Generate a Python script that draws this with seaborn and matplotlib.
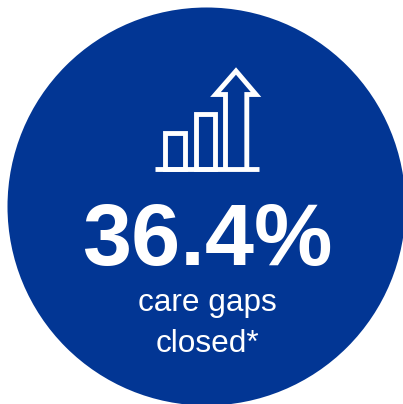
import matplotlib
matplotlib.use("Agg")
import matplotlib.pyplot as plt
import seaborn as sns
from matplotlib.patches import Circle

# Figure content
headline = "36.4%"
caption_lines = ["care gaps", "closed*"]
bar_centres = [175.0, 205.3]
bar_heights = [35.5, 54.5]
BLUE = "#023694"
WHITE = "#ffffff"
STROKE = 3.5

sns.set_theme(style="white", rc={"font.family": ["Liberation Sans", "DejaVu Sans"]})
fig = plt.figure(figsize=(4.03, 4.04), dpi=100, facecolor=WHITE)

# Canvas axes measured in pixels, origin at top left
ax = fig.add_axes([0, 0, 1, 1])
ax.set_xlim(0, 403)
ax.set_ylim(404, 0)
ax.axis("off")
ax.add_patch(Circle((206.5, 206.5), 199, facecolor=BLUE, edgecolor="none", clip_on=True))

# Icon axes: x in canvas pixels, y is height above the icon baseline
base_y = 169.0
icon_left, icon_right = 155.0, 259.0
icon_top = 60.0
icon = fig.add_axes([icon_left / 403, 1 - base_y / 404,
                     (icon_right - icon_left) / 403, (base_y - icon_top) / 404])
icon.patch.set_alpha(0)
sns.barplot(x=bar_centres, y=bar_heights, native_scale=True, width=0.64, fill=False,
            color=WHITE, linewidth=STROKE, ax=icon, clip_on=False, legend=False)
for patch in icon.patches:
    patch.set_edgecolor(WHITE)
    patch.set_clip_on(False)
icon.set_xlim(icon_left, icon_right)
icon.set_ylim(0, base_y - icon_top)
icon.axis("off")

# Rising arrow outline and baseline
arrow_x = [225.5, 225.5, 215.5, 236.0, 256.0, 246.8, 246.8]
arrow_h = [0, 74.5, 74.5, 98.0, 74.5, 74.5, 0]
icon.plot(arrow_x, arrow_h, color=WHITE, lw=STROKE, solid_joinstyle="miter",
          solid_capstyle="butt", clip_on=False)
icon.plot([icon_left, icon_right], [0, 0], color=WHITE, lw=STROKE,
          solid_capstyle="butt", clip_on=False)

# Headline and caption
ax.text(207.7, 264.5, headline, color=WHITE, fontsize=63.5, fontweight="bold",
        ha="center", va="baseline")
ax.text(207, 311.5, caption_lines[0], color=WHITE, fontsize=22.7, ha="center", va="baseline")
ax.text(207, 352.5, caption_lines[1], color=WHITE, fontsize=22.7, ha="center", va="baseline")

fig.savefig("out.png", dpi=100, facecolor=WHITE)
